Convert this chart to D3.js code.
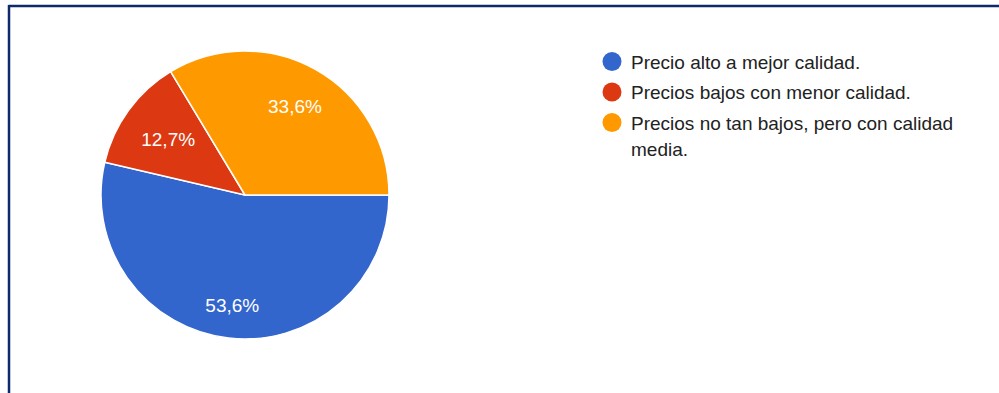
<!DOCTYPE html>
<html>
<head>
<meta charset="utf-8">
<script src="https://cdn.jsdelivr.net/npm/d3@7"></script>
<style>
  html, body { margin: 0; padding: 0; background: #fff; }
  svg { display: block; }
</style>
</head>
<body>
<svg id="chart" width="999" height="393"></svg>
<script>
// Survey answers and their shares (%)
const categories = [
  "Precio alto a mejor calidad.",
  "Precios bajos con menor calidad.",
  "Precios no tan bajos, pero con calidad media."
];
const values = [53.6, 12.7, 33.6];
const valueLabels = ["53,6%", "12,7%", "33,6%"];
const colors = ["#3366cc", "#dc3912", "#ff9900"];

const FONT = "'Liberation Sans', Arial, sans-serif";
const svg = d3.select("#chart");
const W = 999, H = 393;

// Frame: top and left rules
svg.append("line").attr("x1", 8.5).attr("x2", W).attr("y1", 6).attr("y2", 6)
  .attr("stroke", "#0e2a6b").attr("stroke-width", 2.5);
svg.append("line").attr("x1", 9).attr("x2", 9).attr("y1", 5).attr("y2", H)
  .attr("stroke", "#0e2a6b").attr("stroke-width", 2.5);

const cx = 245, cy = 195, R = 144;
const g = svg.append("g").attr("transform", `translate(${cx},${cy})`);

const pie = d3.pie().sort(null).value(d => d)
  .startAngle(Math.PI / 2).endAngle(Math.PI / 2 + 2 * Math.PI);
const arcs = pie(values);
const arc = d3.arc().innerRadius(0).outerRadius(R);

g.selectAll("path.slice").data(arcs).join("path")
  .attr("class", "slice")
  .attr("d", arc)
  .attr("fill", (d, i) => colors[i])
  .attr("stroke", "#fff").attr("stroke-width", 1.5).attr("stroke-linejoin", "round");

// Percentage labels: the outer edge of each text box sits on a fixed radius
const labelEdge = R * 0.84;
g.selectAll("text.pct").data(arcs).join("text")
  .attr("class", "pct")
  .attr("font-family", FONT)
  .attr("font-size", 19)
  .attr("fill", "#fff")
  .attr("text-anchor", "middle")
  .attr("dominant-baseline", "central")
  .text((d, i) => valueLabels[i])
  .each(function (d) {
    const a = (d.startAngle + d.endAngle) / 2;
    const sx = Math.sin(a), sy = -Math.cos(a);
    const bb = this.getBBox();
    const hw = bb.width / 2, hh = 7;
    const proj = hw * Math.abs(sx) + hh * Math.abs(sy);
    const rr = labelEdge - proj;
    d3.select(this).attr("x", rr * sx).attr("y", rr * sy);
  });

// Legend
const legX = 612, legY = 61.5, rowH = 30.5, lineH = 26, maxW = 345;
const leg = svg.append("g");
let y = legY;
categories.forEach((c, i) => {
  leg.append("circle").attr("cx", legX).attr("cy", y).attr("r", 9.5).attr("fill", colors[i]);
  const t = leg.append("text")
    .attr("x", legX + 19).attr("y", y)
    .attr("dominant-baseline", "central")
    .attr("font-family", FONT)
    .attr("font-size", 19)
    .attr("fill", "#222");
  // word wrap within the legend column
  const words = c.split(" ");
  let line = [], tspan = t.append("tspan").attr("x", legX + 19).attr("dy", 0);
  let lines = 1;
  words.forEach(w => {
    line.push(w);
    tspan.text(line.join(" "));
    if (tspan.node().getComputedTextLength() > maxW && line.length > 1) {
      line.pop();
      tspan.text(line.join(" "));
      line = [w];
      tspan = t.append("tspan").attr("x", legX + 19).attr("dy", lineH).text(w);
      lines++;
    }
  });
  y += rowH + (lines - 1) * lineH;
});
</script>
</body>
</html>
